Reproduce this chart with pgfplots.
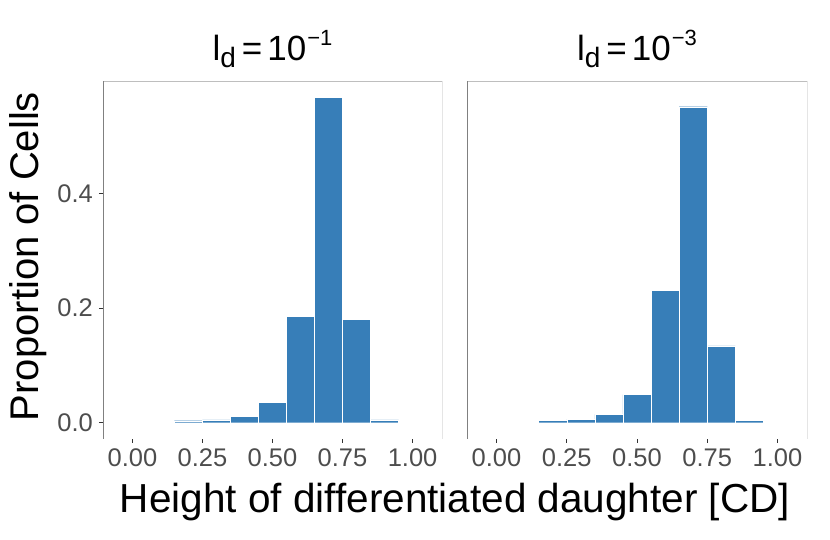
\documentclass[border=0pt]{standalone}
\usepackage{pgfplots}
\pgfplotsset{compat=1.18}
\usepackage{fontspec}
\setmainfont{Liberation Sans}
\definecolor{barblue}{HTML}{377EB8}
\definecolor{ticklab}{HTML}{4D4D4D}
\definecolor{darkline}{HTML}{333333}
\definecolor{midline}{HTML}{808080}
\definecolor{lightline}{HTML}{BEBEBE}
\newcommand\ttl[1]{{\fontsize{35}{35}\selectfont l\raisebox{-6.6pt}{\fontsize{28}{28}\selectfont d}\hspace{6pt}=\hspace{5pt}10\hspace{1pt}\raisebox{15pt}{\fontsize{22}{22}\selectfont −#1}}}
\begin{document}
\begin{tikzpicture}[x=1pt,y=1pt]
\useasboundingbox (0,0) rectangle (830,540);
\pgfplotsset{
  panel/.style={
    scale only axis, width=339pt, height=358pt,
    xmin=-0.105, xmax=1.105, ymin=-0.0285, ymax=0.597,
    axis line style={draw=none},
    xtick={0,0.25,0.5,0.75,1}, xticklabels={0.00,0.25,0.50,0.75,1.00},
    tick align=outside, major tick length=4pt,
    tick style={darkline, line width=0.6pt},
    xtick pos=bottom, ytick pos=left,
    ticklabel style={font=\fontsize{25.5}{25.5}\selectfont, text=ticklab},
    xticklabel style={anchor=base, inner sep=0pt, yshift=-23.7pt},
    title style={at={(0.5,1)}, anchor=base, yshift=14.3pt, inner sep=0pt},
  }
}
\begin{axis}[panel, at={(103pt,101pt)}, anchor=south west,
  ytick={0,0.2,0.4}, yticklabels={0.0,0.2,0.4},
  yticklabel style={anchor=east, inner sep=0pt, xshift=-6pt},
  title={\ttl{1}}]
\addplot[ybar interval, fill=barblue, draw=white, line width=0.35pt] coordinates {
(0.15,0.0035) (0.25,0.0048) (0.35,0.011) (0.45,0.0355) (0.55,0.186) (0.65,0.568) (0.75,0.1806) (0.85,0.0048) (0.95,0.0048)};
\draw[lightline, line width=0.6pt] (rel axis cs:0,1) -- (rel axis cs:1,1);
\draw[midline, line width=0.6pt] (rel axis cs:0,0) -- (rel axis cs:0,1);
\draw[darkline, line width=0.6pt] (rel axis cs:0,0) -- (rel axis cs:1,0) -- (rel axis cs:1,1);
\end{axis}
\begin{axis}[panel, at={(467pt,101pt)}, anchor=south west, width=340pt,
  ytick=\empty,
  title={\ttl{3}}]
\addplot[ybar interval, fill=barblue, draw=white, line width=0.35pt] coordinates {
(0.15,0.0038) (0.25,0.0058) (0.35,0.0145) (0.45,0.049) (0.55,0.231) (0.65,0.552) (0.75,0.134) (0.85,0.0038) (0.95,0.0038)};
\draw[lightline, line width=0.6pt] (rel axis cs:0,1) -- (rel axis cs:1,1);
\draw[midline, line width=0.6pt] (rel axis cs:0,0) -- (rel axis cs:0,1);
\draw[darkline, line width=0.6pt] (rel axis cs:0,0) -- (rel axis cs:1,0) -- (rel axis cs:1,1);
\end{axis}
\node[rotate=90, anchor=base, inner sep=0pt, font=\fontsize{40}{40}\selectfont] at (38,283.5) {Proportion of Cells};
\node[anchor=base, inner sep=0pt, font=\fontsize{40.5}{40.5}\selectfont] at (455,27) {Height of differentiated daughter [CD]};
\end{tikzpicture}
\end{document}
